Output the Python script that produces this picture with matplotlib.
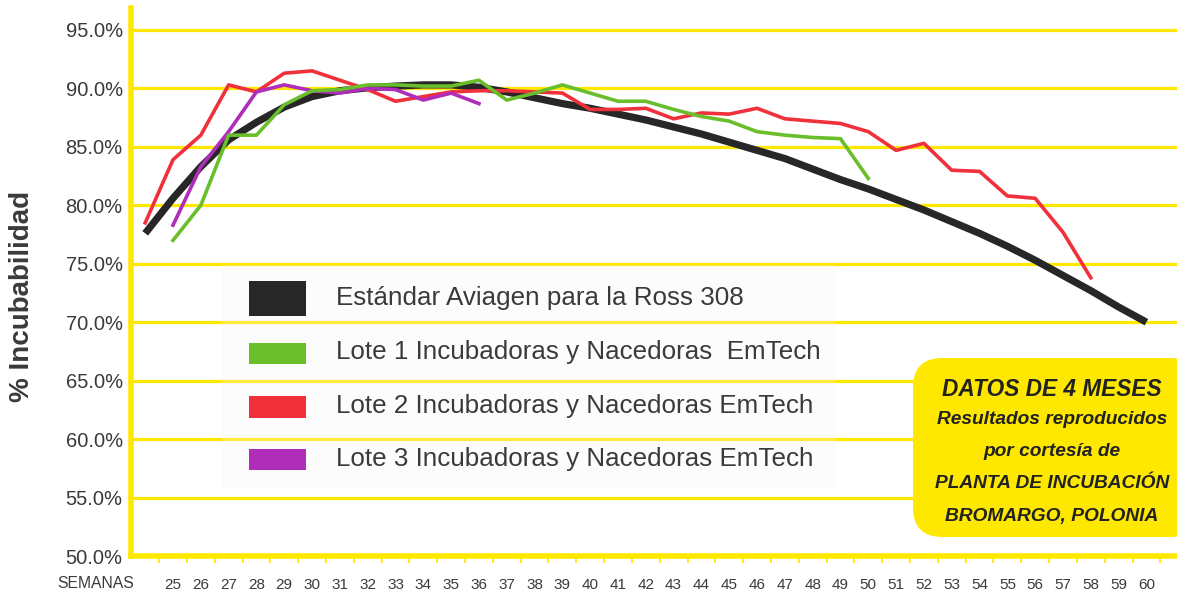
import matplotlib.pyplot as plt
from matplotlib.patches import Rectangle, FancyBboxPatch
import numpy as np

# =========================
# Data
# =========================
ross_weeks = list(range(24, 61))
ross_std = [77.6, 80.6, 83.3, 85.6, 87.1, 88.4, 89.3, 89.8, 90.05, 90.2, 90.3, 90.3,
            90.1, 89.7, 89.2, 88.7, 88.3, 87.8, 87.3, 86.7, 86.1, 85.4, 84.7, 84.0,
            83.1, 82.2, 81.4, 80.5, 79.6, 78.6, 77.6, 76.5, 75.3, 74.0, 72.7, 71.3, 70.0]

lote1_weeks = list(range(25, 51))
lote1 = [77.0, 80.0, 86.0, 86.0, 88.6, 89.8, 89.9, 90.3, 90.3, 90.2, 90.2, 90.7,
         89.0, 89.6, 90.3, 89.6, 88.9, 88.9, 88.2, 87.6, 87.2, 86.3, 86.0, 85.8,
         85.7, 82.3]

lote2_weeks = list(range(24, 59))
lote2 = [78.5, 83.9, 86.0, 90.3, 89.7, 91.3, 91.5, 90.7, 89.9, 88.9, 89.3, 89.7,
         89.8, 89.8, 89.7, 89.6, 88.2, 88.2, 88.3, 87.4, 87.9, 87.8, 88.3, 87.4,
         87.2, 87.0, 86.3, 84.7, 85.3, 83.0, 82.9, 80.8, 80.6, 77.7, 73.8]

lote3_weeks = list(range(25, 37))
lote3 = [78.3, 83.3, 86.3, 89.7, 90.3, 89.8, 89.6, 90.0, 89.9, 89.0, 89.6, 88.7]

week_labels = [str(w) for w in range(25, 61)]
y_ticks = [50, 55, 60, 65, 70, 75, 80, 85, 90, 95]

legend_labels = ['Estándar Aviagen para la Ross 308',
                 'Lote 1 Incubadoras y Nacedoras  EmTech',
                 'Lote 2 Incubadoras y Nacedoras EmTech',
                 'Lote 3 Incubadoras y Nacedoras EmTech']

note_lines = ['DATOS DE 4 MESES', 'Resultados reproducidos', 'por cortesía de',
              'PLANTA DE INCUBACIÓN', 'BROMARGO, POLONIA']

# colours
YELLOW = '#FFE800'
BLACK = '#272727'
GREEN = '#6BBE2B'
RED = '#F0303A'
PURPLE = '#AF2DB9'
TXT = '#3a3a3a'

plt.rcParams['font.family'] = ['Liberation Sans', 'DejaVu Sans']

W, H = 1177, 594
fig = plt.figure(figsize=(W / 100, H / 100), dpi=100)

def fx(px):
    return px / W

def fy(py):
    return 1 - py / H

ax = fig.add_axes([fx(131), fy(556), fx(1177) - fx(131), fy(8) - fy(556)])

# =========================
# Lines
# =========================
ax.plot(ross_weeks, ross_std, color=BLACK, linewidth=5.2, solid_capstyle='butt',
        solid_joinstyle='round', zorder=4)
ax.plot(lote1_weeks, lote1, color=GREEN, linewidth=2.6, zorder=6)
ax.plot(lote2_weeks, lote2, color=RED, linewidth=2.6, zorder=5)
ax.plot(lote3_weeks, lote3, color=PURPLE, linewidth=2.6, zorder=5)

ax.set_xlim(23.49, 61.1)
ax.set_ylim(50, 50 + 548 / 11.69)

# yellow grid
for v in y_ticks[1:]:
    ax.axhline(v, color=YELLOW, linewidth=2.3, zorder=1)

for s in ['top', 'right']:
    ax.spines[s].set_visible(False)
ax.spines['left'].set_color(YELLOW)
ax.spines['left'].set_linewidth(4)
ax.spines['bottom'].set_color(YELLOW)
ax.spines['bottom'].set_linewidth(4)

ax.set_yticks(y_ticks)
ax.set_yticklabels([f'{v:.1f}%' for v in y_ticks], fontsize=14.5, color=TXT)
ax.tick_params(axis='y', length=0, pad=6)

ax.set_xticks(range(25, 61))
ax.set_xticklabels(week_labels, fontsize=11, color=TXT)
ax.tick_params(axis='x', length=0, pad=16)
ax.set_xticks(np.arange(24.5, 61, 1), minor=True)
ax.tick_params(axis='x', which='minor', length=5, width=1.3, color=YELLOW)

fig.text(fx(96), fy(583), 'SEMANAS', fontsize=11.3, color=TXT, ha='center', va='center')
fig.text(fx(22), fy(296), '% Incubabilidad', fontsize=20, fontweight='bold',
         color=TXT, rotation=90, ha='center', va='center')

# =========================
# Legend (drawn by hand)
# =========================
fig.patches.append(Rectangle((fx(222), fy(487)), fx(835) - fx(222), fy(265) - fy(487),
                             transform=fig.transFigure, facecolor='#f4f4f4',
                             edgecolor='none', alpha=0.25, zorder=7))
swatches = [(BLACK, 281, 316), (GREEN, 343, 364), (RED, 396, 418), (PURPLE, 449, 470)]
text_y = [298, 352, 406, 459]
for (c, top, bot), lab, ty in zip(swatches, legend_labels, text_y):
    fig.patches.append(Rectangle((fx(249), fy(bot)), fx(306) - fx(249), fy(top) - fy(bot),
                                 transform=fig.transFigure, facecolor=c,
                                 edgecolor='none', zorder=8))
    fig.text(fx(336), fy(ty), lab, fontsize=18.7, color=TXT, ha='left', va='center', zorder=9)

# =========================
# Note box
# =========================
fig.patches.append(FancyBboxPatch((fx(913), fy(537)), fx(1200) - fx(913), fy(358) - fy(537),
                                  boxstyle='round,pad=0,rounding_size=0.025',
                                  transform=fig.transFigure, facecolor=YELLOW,
                                  edgecolor='none', zorder=7,
                                  mutation_aspect=W / H))
note_y = [390, 419, 452, 483, 516]
note_size = [16.3, 13.8, 13.8, 13.8, 13.8]
for line, ny, ns in zip(note_lines, note_y, note_size):
    fig.text(fx(1052), fy(ny), line, fontsize=ns, fontweight='bold', fontstyle='italic',
             color='#222222', ha='center', va='center', zorder=9)

plt.savefig('out.png', dpi=100)
print('Saved out.png')
